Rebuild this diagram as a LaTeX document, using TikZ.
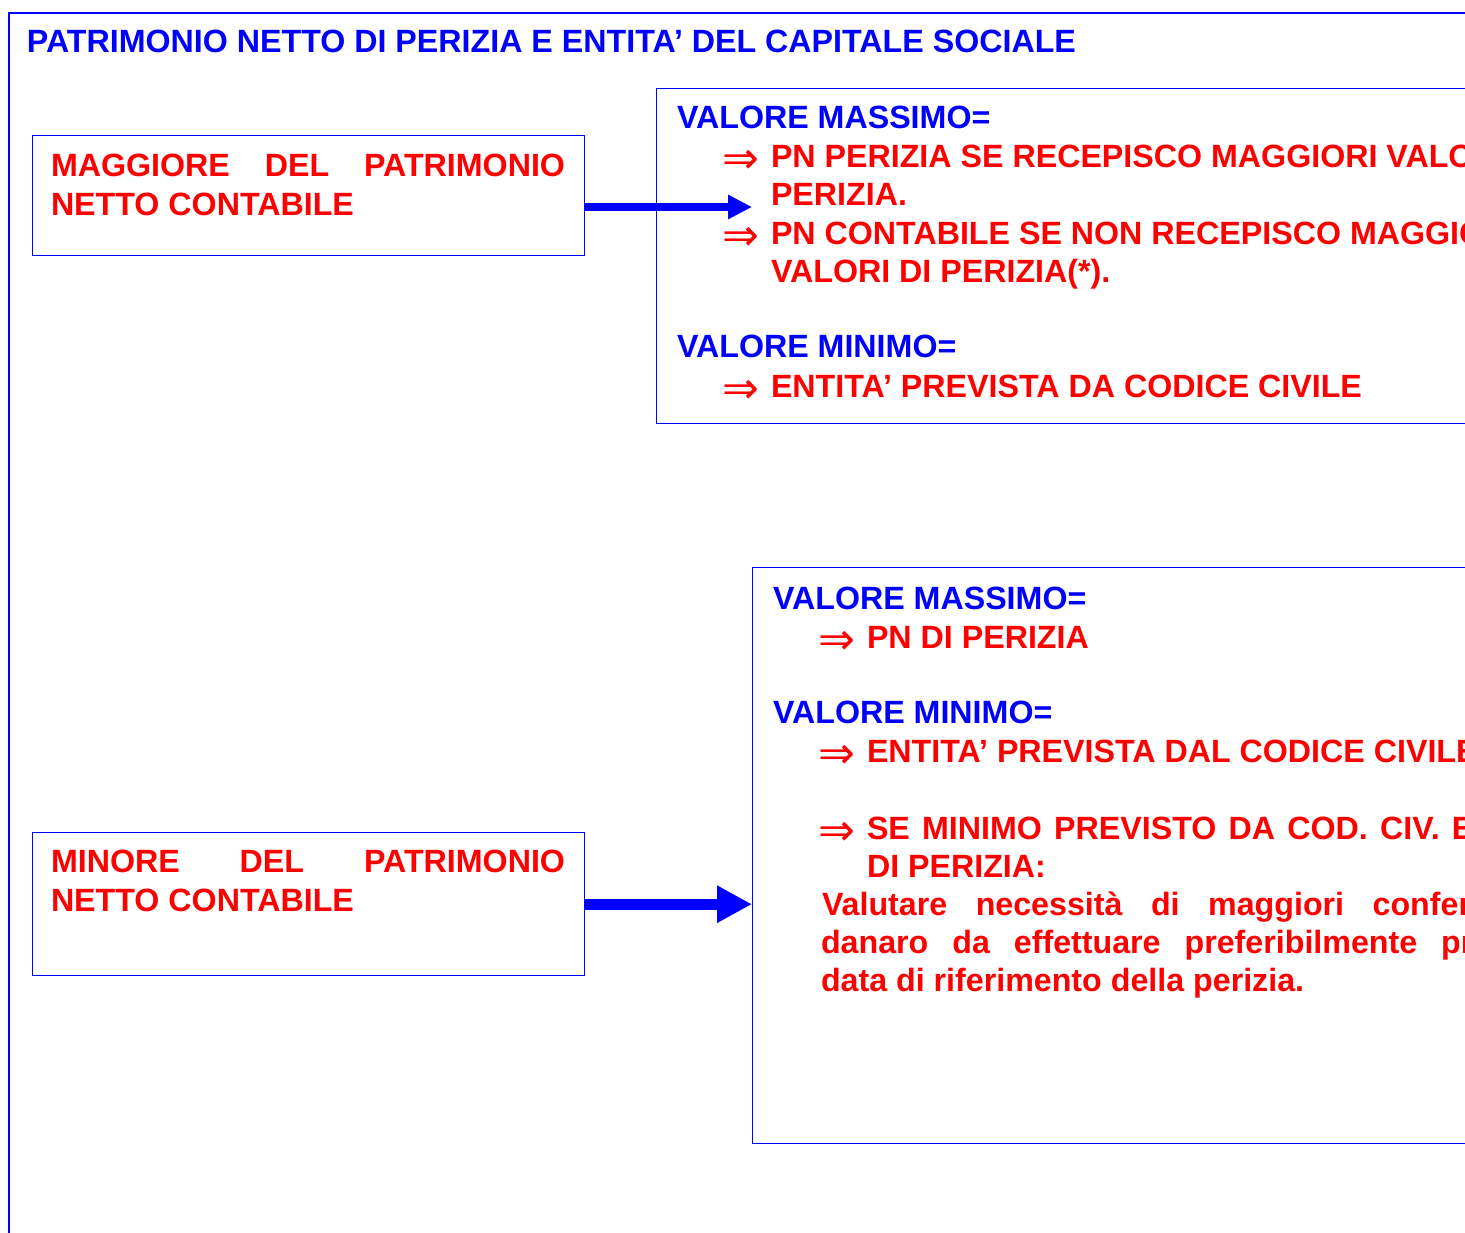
\documentclass[tikz,border=0pt]{standalone}
\usepackage{fontspec}
\setmainfont{Liberation Sans}
\newfontfamily\symfont{DejaVu Sans}
\usetikzlibrary{arrows.meta}
\definecolor{pblue}{RGB}{0,0,255}
\definecolor{pred}{RGB}{255,0,0}
\newcommand\bigtxt{\fontsize{32.2}{38.5}\selectfont\bfseries}
\newcommand\darr{\raisebox{-6pt}{\symfont\fontsize{44}{44}\selectfont ⇒}}
\tikzset{
  frame/.style={draw=pblue, line width=2pt, inner sep=0pt, anchor=north west},
  boxed/.style={draw=pblue, line width=1.4pt, inner sep=0pt, anchor=north west},
  btxt/.style={anchor=base west, inner sep=0pt, outer sep=0pt, text=pblue, font=\bigtxt},
  rtxt/.style={anchor=base west, inner sep=0pt, outer sep=0pt, text=pred, font=\bigtxt},
  sym/.style={anchor=base west, inner sep=0pt, outer sep=0pt, text=pred},
}
\begin{document}
\begin{tikzpicture}[x=1pt,y=-1pt]
\useasboundingbox (0,0) rectangle (1465,1233);
\begin{scope}
\clip (0,0) rectangle (1465,1233);
% outer frame
\node[frame, minimum width=1600pt, minimum height=1400pt] (frame) at (8,12) {};
% title
\node[btxt] (title) at (27,53) {PATRIMONIO NETTO DI PERIZIA E ENTITA’ DEL CAPITALE SOCIALE};
% boxes
\node[boxed, minimum width=552pt, minimum height=120pt] (boxA) at (32,135) {};
\node[boxed, minimum width=900pt, minimum height=335pt] (boxB) at (656,88) {};
\node[boxed, minimum width=552pt, minimum height=143pt] (boxD) at (32,832) {};
\node[boxed, minimum width=800pt, minimum height=576pt] (boxC) at (752,567) {};
% box A text
\node[rtxt] (a1) at (51,177) {\makebox[514pt][l]{MAGGIORE\hfill DEL\hfill PATRIMONIO}};
\node[rtxt] (a2) at (51,216) {NETTO CONTABILE};
% box D text
\node[rtxt] (d1) at (51,872) {\makebox[514pt][l]{MINORE\hfill DEL\hfill PATRIMONIO}};
\node[rtxt] (d2) at (51,911) {NETTO CONTABILE};
% box B text
\node[btxt] (bmax) at (677,129) {VALORE MASSIMO=};
\node[sym] (bs1) at (722,168) {\darr};
\node[rtxt] (b1) at (771,168) {PN PERIZIA SE RECEPISCO MAGGIORI VALORI DI};
\node[rtxt] (b1b) at (771,206) {PERIZIA.};
\node[sym] (bs2) at (722,245) {\darr};
\node[rtxt] (b2) at (771,245) {PN CONTABILE SE NON RECEPISCO MAGGIORI};
\node[rtxt] (b2b) at (771,283) {VALORI DI PERIZIA(*).};
\node[btxt] (bmin) at (677,358) {VALORE MINIMO=};
\node[sym] (bs3) at (722,397) {\darr};
\node[rtxt] (b3) at (771,397) {ENTITA’ PREVISTA DA CODICE CIVILE};
% box C text
\node[btxt] (cmax) at (773,609) {VALORE MASSIMO=};
\node[sym] (cs1) at (818,648) {\darr};
\node[rtxt] (c1) at (867,648) {PN DI PERIZIA};
\node[btxt] (cmin) at (773,723) {VALORE MINIMO=};
\node[sym] (cs2) at (818,762) {\darr};
\node[rtxt] (c2) at (867,762) {ENTITA’ PREVISTA DAL CODICE CIVILE};
\node[sym] (cs3) at (818,839) {\darr};
\node[rtxt] (c3) at (867,839) {\spaceskip=12.2pt SE MINIMO PREVISTO DA COD. CIV. E’ MAGGIORE DEL PN};
\node[rtxt] (c3b) at (867,877) {DI PERIZIA:};
\node[rtxt] (c4) at (822,915) {\spaceskip=28.5pt Valutare necessità di maggiori conferimenti in};
\node[rtxt] (c5) at (821,953) {\spaceskip=24pt danaro da effettuare preferibilmente prima della};
\node[rtxt] (c6) at (821,991) {data di riferimento della perizia.};
% connectors
\coordinate (tipA) at (752,207);
\draw[pblue, line width=8pt, -{Triangle[length=24pt,width=23pt]}] (boxA.east |- tipA) -- (tipA);
\draw[pblue, line width=11pt, -{Triangle[length=35pt,width=35pt]}] (boxD.east) -- (boxD.east -| boxC.west);
\end{scope}
\end{tikzpicture}
\end{document}
